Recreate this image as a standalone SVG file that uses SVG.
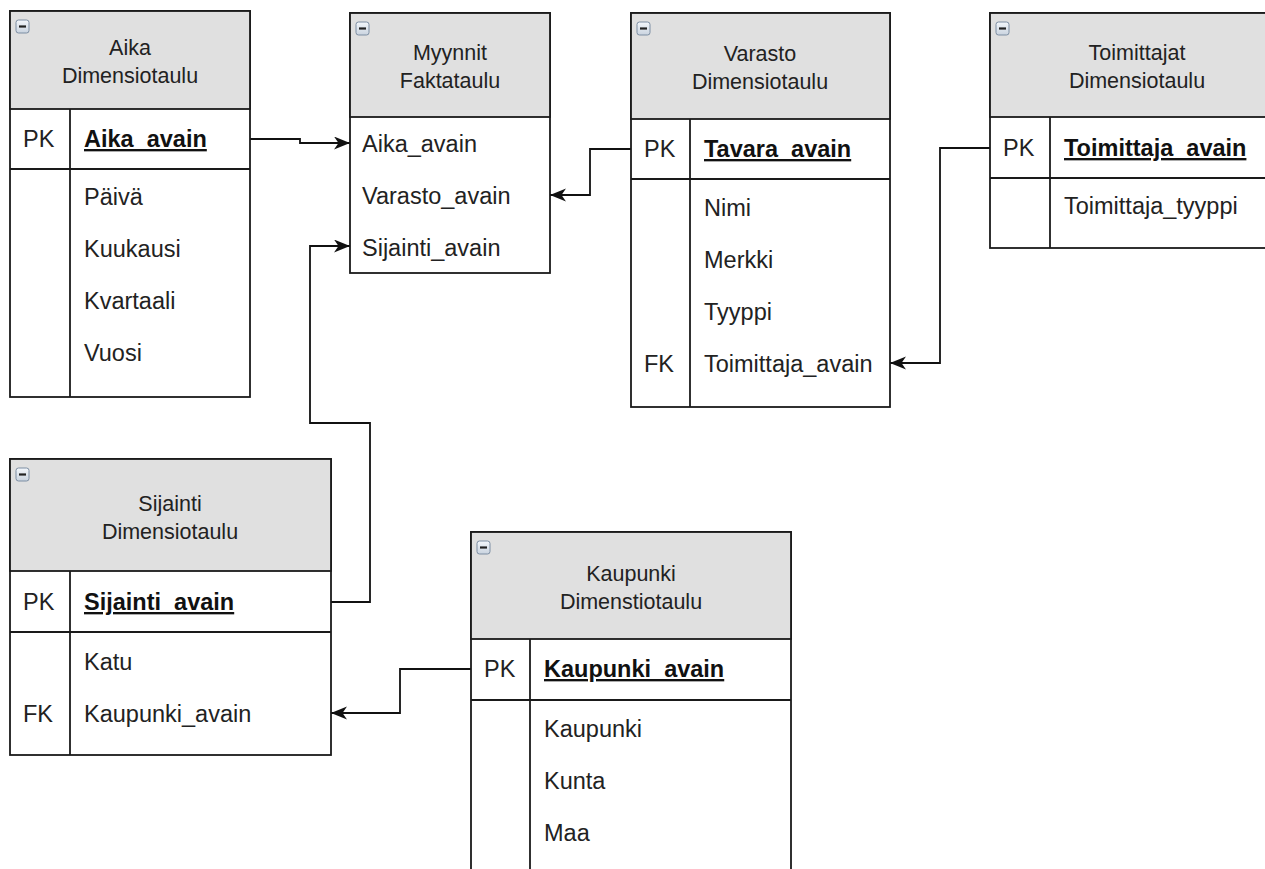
<svg xmlns="http://www.w3.org/2000/svg" width="1265" height="869" viewBox="0 0 1265 869">
  <style>
    .box { fill: #ffffff; stroke: #1a1a1a; stroke-width: 1.8; }
    .hdr { fill: #e0e0e0; stroke: #1a1a1a; stroke-width: 1.8; }
    .sep { stroke: #1a1a1a; stroke-width: 1.8; fill: none; }
    .t { font-family: "Liberation Sans", Arial, sans-serif; font-size: 23.5px; fill: #222222; }
    .h { font-family: "Liberation Sans", Arial, sans-serif; font-size: 21.5px; fill: #222222; text-anchor: middle; }
    .k { font-weight: bold; text-decoration: underline; fill: #111111; }
    .edge { fill: none; stroke: #111111; stroke-width: 1.8; marker-end: url(#arrow); }
    .ico { fill: url(#icoFill); stroke: #7d8ea3; stroke-width: 1; }
    .icoBar { stroke: #222; stroke-width: 2.2; }
  </style>
  <defs>
    <linearGradient id="icoFill" x1="0" y1="0" x2="0" y2="1">
      <stop offset="0" stop-color="#f4f7fb"/>
      <stop offset="1" stop-color="#c9d3df"/>
    </linearGradient>
    <marker id="arrow" markerUnits="userSpaceOnUse" markerWidth="18" markerHeight="14" refX="16" refY="6.5" orient="auto">
      <path d="M0,0 L16,6.5 L0,13 L4.5,6.5 Z" fill="#111111"/>
    </marker>
    <g id="minus">
      <rect class="ico" x="0" y="0" width="13" height="13" rx="2.5"/>
      <line class="icoBar" x1="3" y1="6.5" x2="10" y2="6.5"/>
    </g>
  </defs>

  <!-- connectors -->
  <g id="connectors">
    <path class="edge" d="M250,139 H300 V143 H350"/>
    <path class="edge" d="M631,149 H590 V195 H550"/>
    <path class="edge" d="M331,602 H370 V423 H310 V246 H350"/>
    <path class="edge" d="M990,148 H940 V363 H890"/>
    <path class="edge" d="M471,669 H400 V713 H331"/>
  </g>

  <!-- Aika -->
  <g id="aika">
    <rect class="box" x="10" y="11" width="240" height="386"/>
    <rect class="hdr" x="10" y="11" width="240" height="98"/>
    <line class="sep" x1="10" y1="169" x2="250" y2="169"/>
    <line class="sep" x1="70" y1="109" x2="70" y2="397"/>
    <use href="#minus" x="16" y="20"/>
    <text class="h" x="130" y="55">Aika</text>
    <text class="h" x="130" y="83">Dimensiotaulu</text>
    <text class="t" x="23" y="147">PK</text>
    <text class="t k" x="84" y="147">Aika_avain</text>
    <text class="t" x="84" y="205">Päivä</text>
    <text class="t" x="84" y="257">Kuukausi</text>
    <text class="t" x="84" y="309">Kvartaali</text>
    <text class="t" x="84" y="361">Vuosi</text>
  </g>

  <!-- Myynnit -->
  <g id="myynnit">
    <rect class="box" x="350" y="13" width="200" height="260"/>
    <rect class="hdr" x="350" y="13" width="200" height="104"/>
    <use href="#minus" x="356" y="22"/>
    <text class="h" x="450" y="60">Myynnit</text>
    <text class="h" x="450" y="88">Faktataulu</text>
    <text class="t" x="362" y="152">Aika_avain</text>
    <text class="t" x="362" y="204">Varasto_avain</text>
    <text class="t" x="362" y="256">Sijainti_avain</text>
  </g>

  <!-- Varasto -->
  <g id="varasto">
    <rect class="box" x="631" y="13" width="259" height="394"/>
    <rect class="hdr" x="631" y="13" width="259" height="106"/>
    <line class="sep" x1="631" y1="179" x2="890" y2="179"/>
    <line class="sep" x1="690" y1="119" x2="690" y2="407"/>
    <use href="#minus" x="637" y="22"/>
    <text class="h" x="760" y="61">Varasto</text>
    <text class="h" x="760" y="89">Dimensiotaulu</text>
    <text class="t" x="644" y="157">PK</text>
    <text class="t k" x="704" y="157">Tavara_avain</text>
    <text class="t" x="704" y="216">Nimi</text>
    <text class="t" x="704" y="268">Merkki</text>
    <text class="t" x="704" y="320">Tyyppi</text>
    <text class="t" x="644" y="372">FK</text>
    <text class="t" x="704" y="372">Toimittaja_avain</text>
  </g>

  <!-- Toimittajat -->
  <g id="toimittajat">
    <rect class="box" x="990" y="13" width="294" height="235"/>
    <rect class="hdr" x="990" y="13" width="294" height="104"/>
    <line class="sep" x1="990" y1="178" x2="1284" y2="178"/>
    <line class="sep" x1="1050" y1="117" x2="1050" y2="248"/>
    <use href="#minus" x="996" y="22"/>
    <text class="h" x="1137" y="60">Toimittajat</text>
    <text class="h" x="1137" y="88">Dimensiotaulu</text>
    <text class="t" x="1003" y="156">PK</text>
    <text class="t k" x="1064" y="156">Toimittaja_avain</text>
    <text class="t" x="1064" y="214">Toimittaja_tyyppi</text>
  </g>

  <!-- Sijainti -->
  <g id="sijainti">
    <rect class="box" x="10" y="459" width="321" height="296"/>
    <rect class="hdr" x="10" y="459" width="321" height="112"/>
    <line class="sep" x1="10" y1="632" x2="331" y2="632"/>
    <line class="sep" x1="70" y1="571" x2="70" y2="755"/>
    <use href="#minus" x="16" y="468"/>
    <text class="h" x="170" y="511">Sijainti</text>
    <text class="h" x="170" y="539">Dimensiotaulu</text>
    <text class="t" x="23" y="610">PK</text>
    <text class="t k" x="84" y="610">Sijainti_avain</text>
    <text class="t" x="84" y="670">Katu</text>
    <text class="t" x="23" y="722">FK</text>
    <text class="t" x="84" y="722">Kaupunki_avain</text>
  </g>

  <!-- Kaupunki -->
  <g id="kaupunki">
    <rect class="box" x="471" y="532" width="320" height="380"/>
    <rect class="hdr" x="471" y="532" width="320" height="107"/>
    <line class="sep" x1="471" y1="700" x2="791" y2="700"/>
    <line class="sep" x1="530" y1="639" x2="530" y2="912"/>
    <use href="#minus" x="477" y="541"/>
    <text class="h" x="631" y="581">Kaupunki</text>
    <text class="h" x="631" y="609">Dimenstiotaulu</text>
    <text class="t" x="484" y="677">PK</text>
    <text class="t k" x="544" y="677">Kaupunki_avain</text>
    <text class="t" x="544" y="737">Kaupunki</text>
    <text class="t" x="544" y="789">Kunta</text>
    <text class="t" x="544" y="841">Maa</text>
  </g>
</svg>
